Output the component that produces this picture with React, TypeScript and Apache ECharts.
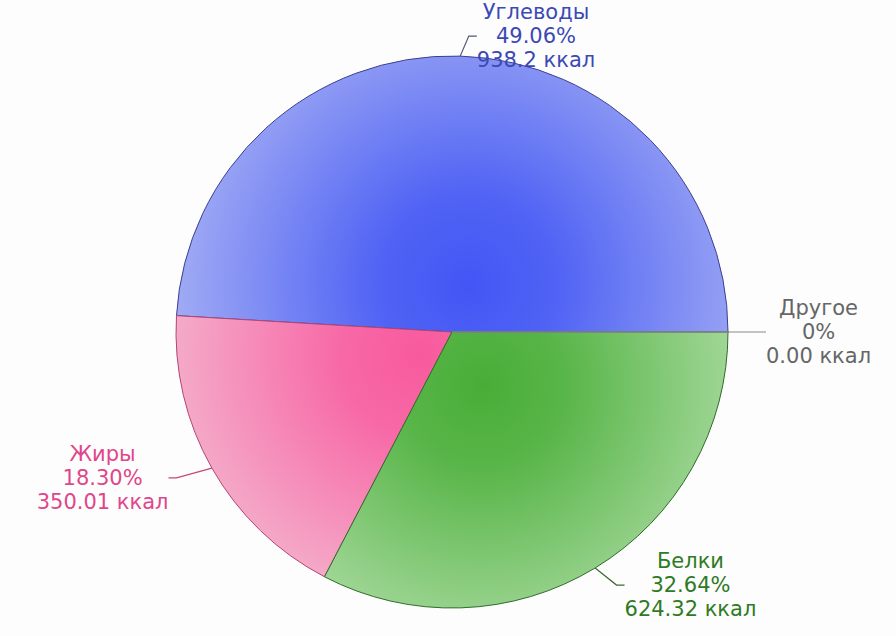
import React, { useEffect, useRef } from "react";
import * as echarts from "echarts";

const names = ["Углеводы", "Жиры", "Белки", "Другое"];
const kcalValues = [938.2, 350.01, 624.32, 0];
const kcalTexts = ["938.2", "350.01", "624.32", "0.00"];
const unit = "ккал";

const labelColors = ["#3b49b5", "#e0468a", "#2f7a24", "#666666"];
const lineColors = ["#50557a", "#c8457a", "#3a6a30", "#8a8a8a"];
const borderColors = ["#3c4092", "#b54474", "#2f6c2a", "#888888"];
const labelGaps = [8, 18, 11, 10];
const grads = [
  { x: 468, y: 285, r: 300, inner: "#4356f5", mid: "#5063f4", outer: "#a3adf4" },
  { x: 420, y: 355, r: 260, inner: "#f85a9d", mid: "#f768a6", outer: "#f4b0cc" },
  { x: 482, y: 385, r: 270, inner: "#48ad37", mid: "#58b548", outer: "#a8da9f" },
  { x: 452, y: 332, r: 276, inner: "#cccccc", mid: "#cccccc", outer: "#cccccc" },
];

export default function App() {
  const ref = useRef<HTMLDivElement>(null);
  useEffect(() => {
    document.body.style.margin = "0";
    const chart = echarts.init(ref.current!, null, { renderer: "svg" });
    const data = names.map((n, i) => ({
      name: n,
      value: kcalValues[i],
      itemStyle: {
        color: {
          type: "radial",
          x: grads[i].x,
          y: grads[i].y,
          r: grads[i].r,
          global: true,
          colorStops: [
            { offset: 0, color: grads[i].inner },
            { offset: 0.3, color: grads[i].mid },
            { offset: 1, color: grads[i].outer },
          ],
        },
        borderColor: borderColors[i],
        borderWidth: 1,
      },
      label: { color: labelColors[i] },
      labelLine: { lineStyle: { color: lineColors[i], width: 1.2 } },
    }));
    chart.setOption({
      animation: false,
      backgroundColor: "#fdfdfd",
      series: [
        {
          type: "pie",
          center: [452, 332],
          radius: 276,
          startAngle: 0,
          clockwise: false,
          avoidLabelOverlap: false,
          data,
          label: {
            show: true,
            position: "outside",
            fontFamily: "DejaVu Sans",
            fontSize: 21,
            lineHeight: 24,
            formatter: (p: any) => {
              const pct = p.percent === 0 ? "0" : p.percent.toFixed(2);
              return `${p.name}\n${pct}%\n${kcalTexts[p.dataIndex]} ${unit}`;
            },
          },
          labelLine: { show: true, length: 20, length2: 8, smooth: false },
          labelLayout: (params: any) => {
            const r = params.labelRect;
            const pts = params.labelLinePoints;
            if (!pts || pts.length < 2) {
              return { x: r.x + r.width / 2, align: "center" };
            }
            const end = pts[pts.length - 1];
            const prev = pts[pts.length - 2];
            const sign = end[0] >= prev[0] ? 1 : -1;
            const gap = labelGaps[params.dataIndex] ?? 8;
            return { x: end[0] + sign * (gap + r.width / 2), align: "center" };
          },
          emphasis: { disabled: true },
        },
      ],
    });
    return () => chart.dispose();
  }, []);
  return (
    <div
      ref={ref}
      style={{ position: "absolute", left: 0, top: 0, width: 896, height: 636 }}
    />
  );
}
